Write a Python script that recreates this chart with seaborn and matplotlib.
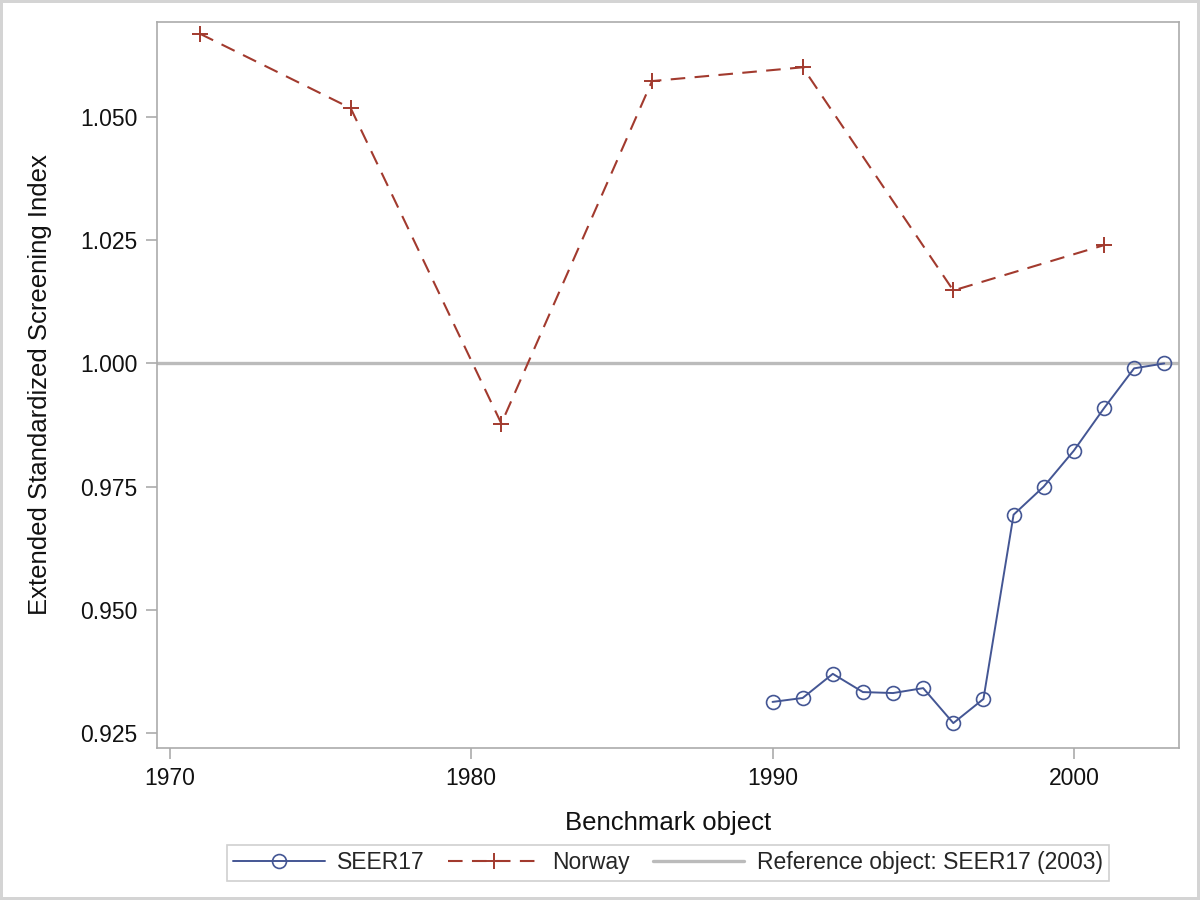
import matplotlib
matplotlib.use('Agg')
from matplotlib import pyplot as plt
import pandas as pd
import numpy as np
import seaborn as sns

# values
seer_years = [1990, 1991, 1992, 1993, 1994, 1995, 1996, 1997, 1998, 1999, 2000, 2001, 2002, 2003]
seer_vals = [0.9313, 0.9321, 0.9370, 0.9333, 0.9331, 0.9341, 0.9270, 0.9319,
             0.9693, 0.9750, 0.9823, 0.9909, 0.9990, 1.0000]
norway_years = [1971, 1976, 1981, 1986, 1991, 1996, 2001]
norway_vals = [1.0669, 1.0518, 0.9878, 1.0573, 1.0601, 1.0148, 1.0240]
ref_value = 1.0
ref_label = 'Reference object: SEER17 (2003)'
y_ticks = [0.925, 0.950, 0.975, 1.000, 1.025, 1.050]
x_ticks = [1970, 1980, 1990, 2000]

blue = '#445694'
red = '#A23A2E'
grey = '#BBBBBB'
axis_grey = '#ABABAB'

sns.set_theme(style='white')
plt.rcParams['font.family'] = ['Liberation Sans', 'DejaVu Sans']

seer_df = pd.DataFrame({'year': seer_years, 'value': seer_vals})
norway_df = pd.DataFrame({'year': norway_years, 'value': norway_vals})

fig = plt.figure(figsize=(12, 9), dpi=100)
ax = fig.add_axes([0.1308, 0.1689, 0.8517, 0.8067])

ax.axhline(ref_value, color=grey, lw=2.4, zorder=1, label=ref_label)
sns.lineplot(data=seer_df, x='year', y='value', ax=ax, color=blue, lw=1.4,
             marker='o', markersize=10, markerfacecolor='none',
             markeredgecolor=blue, markeredgewidth=1.2, label='SEER17', zorder=3)
sns.lineplot(data=norway_df, x='year', y='value', ax=ax, color=red, lw=1.5,
             marker='+', markersize=11, markeredgewidth=1.4, markeredgecolor=red,
             linestyle=(0, (7, 4.5)), label='Norway', zorder=3)

ax.set_xlim(1969.57, 2003.49)
ax.set_ylim(0.92195, 1.0693)
ax.set_xticks(x_ticks)
ax.set_yticks(y_ticks)
ax.set_yticklabels([f'{v:.3f}' for v in y_ticks])

for s in ax.spines.values():
    s.set_color(axis_grey)
    s.set_linewidth(1.2)
ax.tick_params(axis='both', which='major', direction='out', length=8, width=1.2,
               color=axis_grey, labelsize=16.5, labelcolor='#111111', pad=6,
               bottom=True, left=True)

ax.set_xlabel('Benchmark object', fontsize=18.5, color='#111111', labelpad=15)
ax.set_ylabel('Extended Standardized Screening Index', fontsize=18.5, color='#111111', labelpad=20)

handles, labels = ax.get_legend_handles_labels()
order = [labels.index('SEER17'), labels.index('Norway'), labels.index(ref_label)]
leg = ax.legend([handles[i] for i in order], [labels[i] for i in order],
                loc='center', bbox_to_anchor=(0.5, -0.158), ncol=3, fontsize=16.5,
                frameon=True, fancybox=False, edgecolor='#D0D0D0', framealpha=1,
                handlelength=4.0, handletextpad=0.55, columnspacing=1.0,
                borderpad=0.28)
leg.get_frame().set_linewidth(1.2)

fig.patch.set_edgecolor('#D4D4D4')
fig.patch.set_linewidth(4)
fig.savefig('out.png', dpi=100, edgecolor=fig.get_edgecolor())
